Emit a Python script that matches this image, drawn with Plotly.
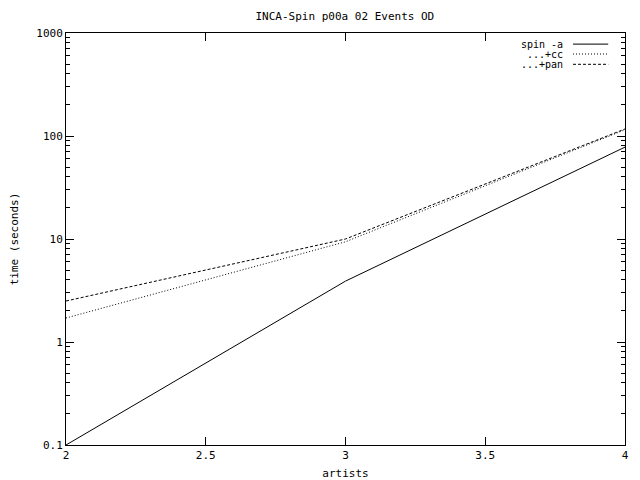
import plotly.graph_objects as go

artists = [2, 3, 4]
spin_a = [0.1, 3.9, 78]
plus_cc = [1.71, 9.4, 115]
plus_pan = [2.5, 10.0, 117]

series = [
    ("spin -a", spin_a, "solid"),
    ("...+cc", plus_cc, "1px,2px"),
    ("...+pan", plus_pan, "3px,2px"),
]

FONT = "DejaVu Sans Mono"
fig = go.Figure()
for name, ys, dash in series:
    fig.add_trace(go.Scatter(x=artists, y=ys, mode="lines", name=name,
                             line=dict(color="black", width=1, dash=dash),
                             showlegend=False, cliponaxis=True))

# manual gnuplot-style legend (text right-aligned, sample to the right)
leg_y = [0.973, 0.949, 0.924]
for (name, ys, dash), yy in zip(series, leg_y):
    fig.add_annotation(x=0.893, y=yy, xref="paper", yref="paper", text=name,
                       showarrow=False, xanchor="right", yanchor="middle",
                       font=dict(family=FONT, size=10, color="black"))
    fig.add_shape(type="line", xref="paper", yref="paper", x0=0.907, x1=0.970,
                  y0=yy, y1=yy, line=dict(color="black", width=1, dash=dash))

# page body has an 8px margin, so the figure is sized 632x472
fig.update_layout(
    width=632, height=472,
    margin=dict(l=58, r=15, t=25, b=35, autoexpand=False),
    paper_bgcolor="white", plot_bgcolor="white",
    font=dict(family=FONT, size=11, color="black"),
    title=dict(text="INCA-Spin p00a 02 Events OD", x=0.533, xanchor="center",
               xref="container", yref="container",
               y=0.983, yanchor="middle", font=dict(family=FONT, size=11),
               automargin=False),
    showlegend=False,
)
fig.update_xaxes(range=[2, 4], tickvals=[2, 2.5, 3, 3.5, 4],
                 ticktext=["2", "2.5", "3", "3.5", "4"], automargin=False,
                 ticks="inside", ticklen=8, tickcolor="black", mirror="ticks",
                 showline=True, linecolor="black", linewidth=1, showgrid=False,
                 zeroline=False,
                 title=dict(text="artists", standoff=8, font=dict(family=FONT, size=11)))
fig.update_yaxes(type="log", range=[-1, 3], tickvals=[0.1, 1, 10, 100, 1000],
                 ticktext=["0.1", "1", "10", "100", "1000"], automargin=False,
                 ticks="inside", ticklen=8, tickcolor="black", mirror="ticks",
                 showline=True, linecolor="black", linewidth=1, showgrid=False,
                 zeroline=False,
                 minor=dict(ticks="inside", ticklen=4, tickcolor="black",
                            tickvals=[m * 10 ** e for e in range(-1, 3) for m in range(2, 10)],
                            showgrid=False),
                 title=dict(text="time (seconds)", standoff=20, font=dict(family=FONT, size=11)))

fig.write_html("out.html")
